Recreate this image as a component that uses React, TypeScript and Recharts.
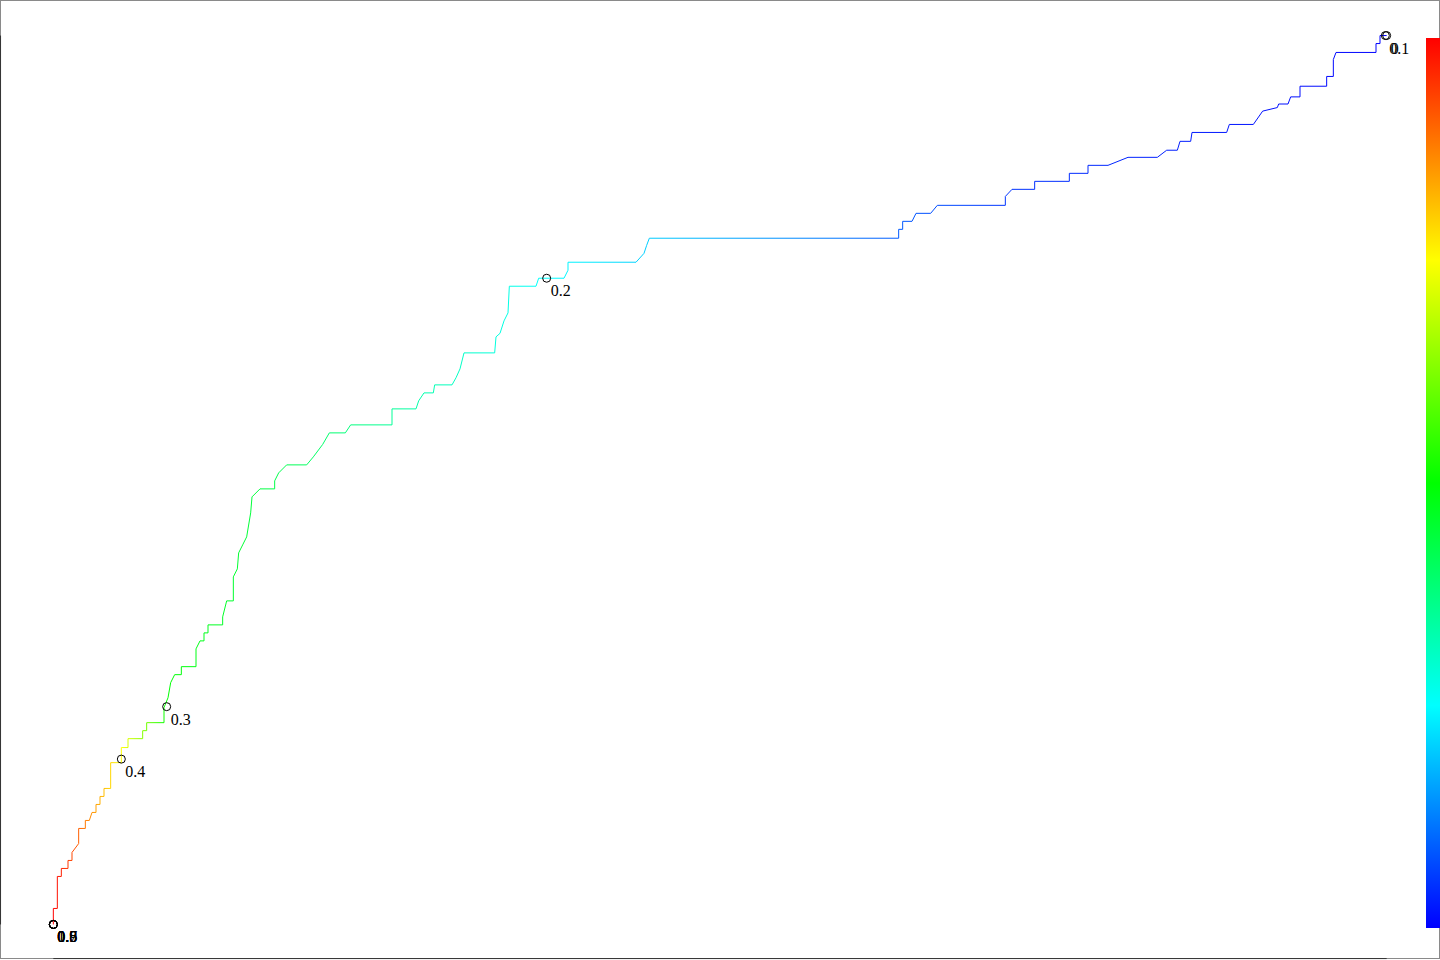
import { ComposedChart, Line, Scatter, XAxis, YAxis, ReferenceLine } from 'recharts'

// ROC curve corner points
const rocFpr = [
  0, 0, 0.003, 0.003, 0.006, 0.006, 0.011, 0.011, 0.014, 0.014, 0.019, 0.019, 0.024, 0.024, 0.027, 0.029,
  0.032, 0.032, 0.035, 0.035, 0.038, 0.038, 0.043, 0.043, 0.051, 0.051, 0.056, 0.056, 0.067, 0.067, 0.07, 0.07,
  0.083, 0.083, 0.086, 0.088, 0.091, 0.096, 0.096, 0.107, 0.107, 0.11, 0.113, 0.113, 0.116, 0.116, 0.127, 0.127,
  0.13, 0.135, 0.135, 0.138, 0.139, 0.142, 0.145, 0.148, 0.149, 0.155, 0.166, 0.166, 0.169, 0.175, 0.19, 0.195,
  0.202, 0.207, 0.219, 0.223, 0.254, 0.254, 0.272, 0.274, 0.278, 0.285, 0.286, 0.299, 0.302, 0.305, 0.308, 0.331,
  0.332, 0.335, 0.338, 0.341, 0.342, 0.362, 0.364, 0.383, 0.386, 0.386, 0.437, 0.443, 0.445, 0.447, 0.634, 0.634,
  0.637, 0.637, 0.644, 0.647, 0.658, 0.663, 0.714, 0.714, 0.719, 0.736, 0.736, 0.762, 0.762, 0.776, 0.776, 0.791,
  0.806, 0.828, 0.835, 0.843, 0.845, 0.853, 0.854, 0.88, 0.882, 0.9, 0.907, 0.918, 0.919, 0.926, 0.928, 0.935,
  0.935, 0.955, 0.955, 0.96, 0.96, 0.962, 0.992, 0.992, 0.995, 0.995, 1,
]
const rocTpr = [
  0, 0.018, 0.018, 0.054, 0.054, 0.063, 0.063, 0.072, 0.072, 0.081, 0.091, 0.108, 0.108, 0.117, 0.117, 0.126,
  0.126, 0.135, 0.135, 0.144, 0.144, 0.153, 0.153, 0.182, 0.182, 0.199, 0.199, 0.209, 0.209, 0.218, 0.218, 0.227,
  0.227, 0.244, 0.255, 0.272, 0.281, 0.281, 0.29, 0.29, 0.31, 0.319, 0.319, 0.328, 0.328, 0.337, 0.337, 0.346,
  0.364, 0.364, 0.391, 0.4, 0.418, 0.427, 0.436, 0.463, 0.481, 0.49, 0.49, 0.499, 0.508, 0.517, 0.517, 0.526,
  0.54, 0.553, 0.553, 0.562, 0.562, 0.58, 0.58, 0.589, 0.598, 0.598, 0.607, 0.607, 0.615, 0.625, 0.643, 0.643,
  0.661, 0.665, 0.679, 0.688, 0.718, 0.718, 0.727, 0.727, 0.736, 0.745, 0.745, 0.755, 0.764, 0.772, 0.772, 0.782,
  0.782, 0.791, 0.791, 0.8, 0.8, 0.809, 0.809, 0.819, 0.827, 0.827, 0.836, 0.836, 0.845, 0.845, 0.854, 0.854,
  0.863, 0.863, 0.871, 0.871, 0.881, 0.881, 0.891, 0.891, 0.9, 0.9, 0.915, 0.919, 0.923, 0.923, 0.931, 0.931,
  0.943, 0.943, 0.954, 0.954, 0.973, 0.981, 0.981, 0.991, 0.991, 1, 1,
]

// printed cutoffs
const cutoffLabels = ['0', '0.1', '0.2', '0.3', '0.4', '0.5', '0.6', '0.7', '0.8', '0.9', '1']
const cutoffFpr = [1, 0.999, 0.37, 0.085, 0.051, 0, 0, 0, 0, 0, 0]
const cutoffTpr = [1, 1, 0.727, 0.245, 0.186, 0, 0, 0, 0, 0, 0]

// cutoff value along the curve (for colouring), by fpr
const colorFpr = [0, 0.051, 0.085, 0.37, 0.447, 0.634, 0.714, 1]
const colorCutoff = [0.5, 0.4, 0.3, 0.2, 0.18, 0.135, 0.12, 0.1]

const CUT_MIN = 0.1
const CUT_MAX = 0.5
const hue = (c: number) => ((CUT_MAX - c) / (CUT_MAX - CUT_MIN)) * 240

const roc = rocFpr.map((f, i) => ({ fpr: f, tpr: rocTpr[i] }))
const cutoffs = cutoffLabels.map((label, i) => ({ fpr: cutoffFpr[i], tpr: cutoffTpr[i], label }))

const CutoffMark = (props: any) => {
  const { cx, cy, payload } = props
  return (
    <g>
      <circle cx={cx} cy={cy} r={4} fill="none" stroke="#000" strokeWidth={1} />
      <text x={cx + 4} y={cy + 18} fontFamily="'Liberation Serif', serif" fontSize={16} fill="#000">
        {payload.label}
      </text>
    </g>
  )
}

export default function App() {
  return (
    <div style={{ position: 'absolute', left: 0, top: 0, width: 1440, height: 960, background: '#fff' }}>
      <div style={{
        position: 'absolute', left: 0, top: 0, width: 1440, height: 959,
        border: '1px solid #8a8a8a', boxSizing: 'border-box', pointerEvents: 'none',
      }} />
      <ComposedChart width={1440} height={960} data={roc} margin={{ top: 0, right: 0, bottom: 0, left: 0 }}>
        <defs>
          <linearGradient id="rocColor" x1="0" y1="0" x2="1" y2="0">
            {colorFpr.map((f, i) => (
              <stop key={i} offset={f} stopColor={`hsl(${hue(colorCutoff[i])}, 100%, 50%)`} />
            ))}
          </linearGradient>
        </defs>
        <XAxis type="number" dataKey="fpr" domain={[-0.04, 1.04]} hide />
        <YAxis type="number" domain={[-0.04, 1.04]} hide />
        <ReferenceLine segment={[{ x: 0, y: -0.0384 }, { x: 1, y: -0.0384 }]} stroke="#333" ifOverflow="visible" />
        <ReferenceLine segment={[{ x: -0.0396, y: 0 }, { x: -0.0396, y: 1 }]} stroke="#333" ifOverflow="visible" />
        <Line type="linear" dataKey="tpr" stroke="url(#rocColor)" strokeWidth={1} dot={false}
          activeDot={false} isAnimationActive={false} />
        <Scatter data={cutoffs} dataKey="tpr" shape={CutoffMark} isAnimationActive={false} />
      </ComposedChart>
      <div style={{
        position: 'absolute', left: 1426, top: 38, width: 14, height: 890,
        background: 'linear-gradient(to top, #0000ff, #00ffff, #00ff00, #ffff00, #ff0000)',
      }} />
    </div>
  )
}
